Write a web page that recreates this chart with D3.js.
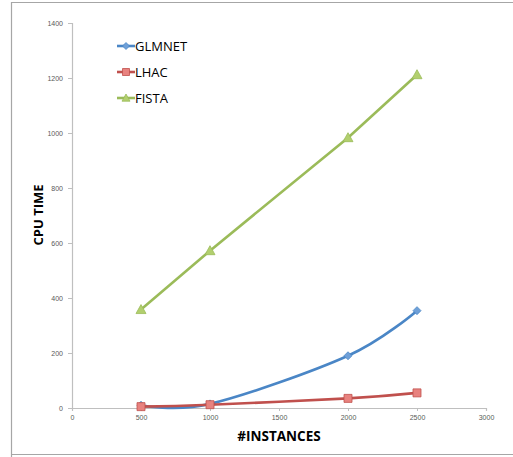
<!DOCTYPE html>
<html>
<head>
<meta charset="utf-8">
<script src="https://cdn.jsdelivr.net/npm/d3@7"></script>
<style>
  body { margin: 0; background: #fff; }
  svg { display: block; }
</style>
</head>
<body>
<svg id="chart"></svg>
<script>
// data
var instances = [500, 1000, 2000, 2500];
var glmnet = [10, 15, 190, 354];
var lhac = [5, 12, 35, 55];
var fista = [358, 572, 983, 1212];
var xTicks = [0, 500, 1000, 1500, 2000, 2500, 3000];
var yTicks = [0, 200, 400, 600, 800, 1000, 1200, 1400];

var width = 513, height = 457;
var svg = d3.select("#chart").attr("width", width).attr("height", height);

// outer frame
svg.append("path")
  .attr("d", "M11.5,460 V2.5 H520 M11.5,454.5 H520")
  .attr("fill", "none")
  .attr("stroke", "#a6a6a6")
  .attr("stroke-width", 1.2);

var x = d3.scaleLinear().domain([0, 3000]).range([72, 486]);
var y = d3.scaleLinear().domain([0, 1400]).range([408, 23]);

// y axis
var yAxis = svg.append("g")
  .attr("transform", "translate(72,0)")
  .call(d3.axisLeft(y).tickValues(yTicks).tickFormat(d3.format("d")).tickSize(4).tickPadding(5));
// x axis
var xAxis = svg.append("g")
  .attr("transform", "translate(0,408)")
  .call(d3.axisBottom(x).tickValues(xTicks).tickFormat(d3.format("d")).tickSize(3).tickPadding(4));

[xAxis, yAxis].forEach(function (g) {
  g.select(".domain").attr("stroke", "#bfbfbf").attr("stroke-width", 1.2);
  g.selectAll(".tick line").attr("stroke", "#bfbfbf");
  g.selectAll(".tick text")
    .attr("fill", "#595959")
    .style("font-family", "Liberation Sans, Arial, sans-serif")
    .style("font-size", "7px");
});

// axis titles
svg.append("text")
  .attr("transform", "translate(43,215) rotate(-90)")
  .attr("text-anchor", "middle")
  .style("font-family", "Open Sans, Liberation Sans, sans-serif")
  .style("font-weight", "bold")
  .style("font-size", "13px")
  .text("CPU TIME");

svg.append("text")
  .attr("x", 279)
  .attr("y", 441)
  .attr("text-anchor", "middle")
  .style("font-family", "Open Sans, Liberation Sans, sans-serif")
  .style("font-weight", "bold")
  .style("font-size", "13.5px")
  .text("#INSTANCES");

var series = [
  { name: "GLMNET", values: glmnet, color: "#4a86c6", fill: "#6fa0d8", marker: "diamond", curve: d3.curveCatmullRom.alpha(0) },
  { name: "LHAC", values: lhac, color: "#c0504d", fill: "#e8827f", marker: "square", curve: d3.curveCatmullRom.alpha(0) },
  { name: "FISTA", values: fista, color: "#9bbb59", fill: "#b2cf6e", marker: "triangle", curve: d3.curveLinear }
];

function markerPath(type, s) {
  var h = s / 2;
  if (type == "diamond") return "M0," + (-h) + "L" + h + ",0L0," + h + "L" + (-h) + ",0Z";
  if (type == "square") return "M" + (-h) + "," + (-h) + "h" + s + "v" + s + "h" + (-s) + "Z";
  return "M0," + (-h) + "L" + h + "," + (h * 0.8) + "L" + (-h) + "," + (h * 0.8) + "Z";
}

var markerSize = { diamond: 8, square: 8, triangle: 10 };
var legendSize = { diamond: 7, square: 7, triangle: 8 };

series.forEach(function (sr) {
  var pts = instances.map(function (d, i) { return [x(d), y(sr.values[i])]; });
  var line = d3.line().curve(sr.curve);
  svg.append("path")
    .attr("d", line(pts))
    .attr("fill", "none")
    .attr("stroke", sr.color)
    .attr("stroke-width", 2.6);
  svg.append("g").selectAll("path")
    .data(pts)
    .enter()
    .append("path")
    .attr("d", markerPath(sr.marker, markerSize[sr.marker]))
    .attr("transform", function (d) { return "translate(" + d[0] + "," + d[1] + ")"; })
    .attr("fill", sr.fill)
    .attr("stroke", sr.color)
    .attr("stroke-width", 0.8);
});

// legend
var legend = svg.append("g").selectAll("g")
  .data(series)
  .enter()
  .append("g")
  .attr("transform", function (d, i) { return "translate(0," + (46 + i * 26) + ")"; });
legend.append("line")
  .attr("x1", 117).attr("x2", 135)
  .attr("stroke", function (d) { return d.color; })
  .attr("stroke-width", 2.6);
legend.append("path")
  .attr("d", function (d) { return markerPath(d.marker, legendSize[d.marker]); })
  .attr("transform", "translate(126,0)")
  .attr("fill", function (d) { return d.fill; })
  .attr("stroke", function (d) { return d.color; })
  .attr("stroke-width", 0.8);
legend.append("text")
  .attr("x", 135)
  .attr("y", 5)
  .style("font-family", "Open Sans, Liberation Sans, sans-serif")
  .style("font-size", "13px")
  .text(function (d) { return d.name; });
</script>
</body>
</html>
